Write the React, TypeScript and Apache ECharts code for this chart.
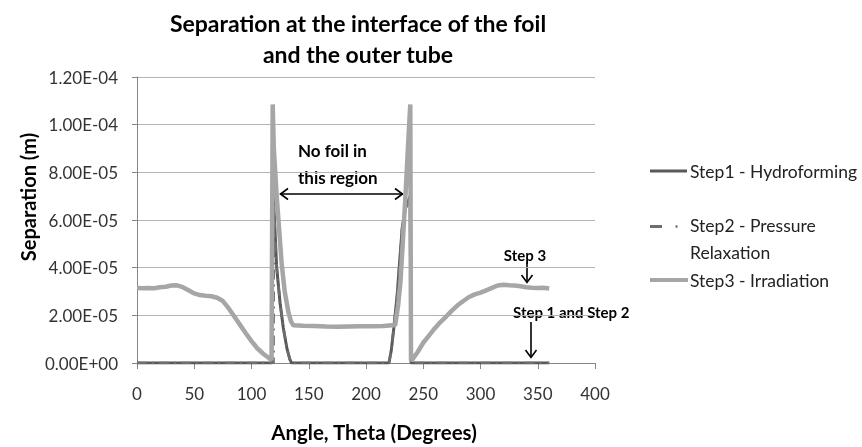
import React, { useEffect, useRef } from "react";
import * as echarts from "echarts";

// Units: separation values below are in units of 1e-5 m
const UNIT = 1e-5;

const step1Angle = [0, 117.5, 119, 120.5, 122, 125, 127.8, 131, 133.5, 135, 220, 222, 224.3, 227.2, 231.6, 234.5, 238.5, 239.4, 360];
const step1Sep = [0, 0, 7.0, 5.6, 4.0, 2.5, 1.47, 0.6, 0.15, 0, 0, 0.5, 1.47, 2.85, 5.66, 6.5, 7.0, 0, 0];

const step2Angle = [0, 119.3, 119.5, 120.5, 122, 125, 127.8, 131, 133.5, 135, 220, 222, 224.3, 227.2, 231.6, 234.5, 238.5, 239.4, 360];
const step2Sep = [0, 0, 6.6, 5.6, 4.0, 2.5, 1.47, 0.6, 0.15, 0, 0, 0.5, 1.47, 2.85, 5.66, 6.5, 6.8, 0, 0];

const step3Angle = [
  0, 5, 10, 15, 20, 25, 30, 35, 40, 45, 50, 55, 60, 65, 70, 75, 80, 85, 90, 95, 100, 105, 110, 114, 117.5,
  118.5, 119.5, 122, 126.3, 129, 132.2, 134.5, 136.6, 145, 155, 165, 175, 185, 195, 205, 215, 225.5,
  228, 230.1, 232.3, 234.5, 237.5, 238.7, 239.3, 240.5, 245, 250, 255, 260, 265, 270, 275, 280, 285, 290,
  295, 300, 305, 310, 315, 320, 325, 330, 335, 340, 345, 350, 355, 360,
];
const step3Sep = [
  3.15, 3.14, 3.15, 3.14, 3.18, 3.2, 3.25, 3.26, 3.18, 3.05, 2.92, 2.85, 2.82, 2.8, 2.74, 2.6, 2.3, 1.95, 1.6, 1.25, 0.92, 0.62, 0.4, 0.25, 0.12,
  10.85, 9.0, 7.0, 4.2, 3.0, 2.14, 1.75, 1.58, 1.56, 1.55, 1.53, 1.52, 1.53, 1.54, 1.54, 1.55, 1.59,
  2.4, 3.41, 5.2, 7.04, 9.84, 10.85, 0.1, 0.15, 0.45, 0.85, 1.15, 1.45, 1.72, 1.95, 2.2, 2.42, 2.6, 2.77,
  2.88, 2.95, 3.05, 3.15, 3.25, 3.28, 3.26, 3.25, 3.22, 3.18, 3.16, 3.15, 3.16, 3.13,
];

const xTicks = { min: 0, max: 400, interval: 50 };
const yTicks = { min: 0, max: 12e-5, interval: 2e-5 };

const legendNames = ["Step1 - Hydroforming", "Step2 - Pressure\nRelaxation", "Step3 - Irradiation"];

function sci(v: number): string {
  if (Math.abs(v) < 1e-12) return "0.00E+00";
  let e = Math.floor(Math.log10(Math.abs(v)) + 1e-9);
  let m = v / Math.pow(10, e);
  if (Number(m.toFixed(2)) >= 10) {
    e += 1;
    m = v / Math.pow(10, e);
  }
  return m.toFixed(2) + "E" + (e < 0 ? "-" : "+") + String(Math.abs(e)).padStart(2, "0");
}

function pairs(xs: number[], ys: number[]) {
  return xs.map((x, i) => [x, ys[i] * UNIT]);
}

const FONT = "Lato, 'Open Sans', sans-serif";

export default function App() {
  const ref = useRef<HTMLDivElement>(null);
  useEffect(() => {
    if (!ref.current) return;
    const chart = echarts.init(ref.current, undefined, { renderer: "svg" });
    const black = "#000";
    const arrowStyle = { stroke: black, lineWidth: 1.6, fill: null };
    chart.setOption({
      animation: false,
      textStyle: { fontFamily: FONT },
      grid: { left: 137, right: 267, top: 77, bottom: 84, containLabel: false },
      xAxis: {
        type: "value",
        min: xTicks.min,
        max: xTicks.max,
        interval: xTicks.interval,
        axisLine: { show: true, onZero: false, lineStyle: { color: "#868686", width: 1 } },
        axisTick: { show: true, inside: false, length: 6, lineStyle: { color: "#868686" } },
        axisLabel: { color: "#333", fontSize: 17, margin: 22, fontFamily: FONT },
        splitLine: { show: false },
      },
      yAxis: {
        type: "value",
        min: yTicks.min,
        max: yTicks.max,
        interval: yTicks.interval,
        axisLine: { show: true, lineStyle: { color: "#868686", width: 1 } },
        axisTick: { show: true, inside: false, length: 5, lineStyle: { color: "#868686" } },
        axisLabel: { color: "#333", fontSize: 17, margin: 19, fontFamily: FONT, formatter: (v: number) => sci(v) },
        splitLine: { show: true, lineStyle: { color: "#b3b3b3", width: 1 } },
      },
      series: [
        {
          name: "Step1 - Hydroforming",
          type: "line",
          showSymbol: false,
          symbol: "none",
          data: pairs(step1Angle, step1Sep),
          lineStyle: { color: "#595959", width: 3 },
          z: 2,
        },
        {
          name: "Step2 - Pressure Relaxation",
          type: "line",
          showSymbol: false,
          symbol: "none",
          data: pairs(step2Angle, step2Sep),
          lineStyle: { color: "#6e6e6e", width: 2.5, type: [10, 5, 2, 5] },
          z: 3,
        },
        {
          name: "Step3 - Irradiation",
          type: "line",
          showSymbol: false,
          symbol: "none",
          data: pairs(step3Angle, step3Sep),
          lineStyle: { color: "#a6a6a6", width: 4.5 },
          z: 4,
        },
      ],
      graphic: [
        // Title
        {
          type: "text",
          x: 358,
          y: 7,
          style: {
            text: "Separation at the interface of the foil\nand the outer tube",
            fontFamily: FONT,
            fontWeight: "bold",
            fontSize: 23,
            lineHeight: 31,
            fill: black,
            textAlign: "center",
            textVerticalAlign: "top",
          },
        },
        // Y axis title
        {
          type: "text",
          x: 28,
          y: 197,
          rotation: Math.PI / 2,
          style: {
            text: "Separation (m)",
            fontFamily: FONT,
            fontWeight: "bold",
            fontSize: 20,
            fill: black,
            textAlign: "center",
            textVerticalAlign: "middle",
          },
        },
        // X axis title
        {
          type: "text",
          x: 374,
          y: 432,
          style: {
            text: "Angle, Theta (Degrees)",
            fontFamily: FONT,
            fontWeight: "bold",
            fontSize: 20.5,
            fill: black,
            textAlign: "center",
            textVerticalAlign: "middle",
          },
        },
        // Legend
        { type: "line", shape: { x1: 650, y1: 171, x2: 687, y2: 171 }, style: { stroke: "#595959", lineWidth: 3 } },
        { type: "text", x: 690, y: 171, style: { text: legendNames[0], fontFamily: FONT, fontSize: 17.5, fill: "#222", textVerticalAlign: "middle" } },
        { type: "line", shape: { x1: 650, y1: 226.5, x2: 662, y2: 226.5 }, style: { stroke: "#6e6e6e", lineWidth: 3 } },
        { type: "line", shape: { x1: 675.5, y1: 226.5, x2: 677.5, y2: 226.5 }, style: { stroke: "#6e6e6e", lineWidth: 2.5 } },
        { type: "text", x: 690, y: 212, style: { text: legendNames[1], fontFamily: FONT, fontSize: 17.5, lineHeight: 27, fill: "#222", textVerticalAlign: "top" } },
        { type: "line", shape: { x1: 650, y1: 280, x2: 688, y2: 280 }, style: { stroke: "#a6a6a6", lineWidth: 4 } },
        { type: "text", x: 690, y: 280, style: { text: legendNames[2], fontFamily: FONT, fontSize: 17.5, fill: "#222", textVerticalAlign: "middle" } },
        // No foil annotation
        {
          type: "text",
          x: 298,
          y: 150,
          style: { text: "No foil in", fontFamily: FONT, fontWeight: "bold", fontSize: 17, fill: black, textVerticalAlign: "middle" },
        },
        {
          type: "text",
          x: 298,
          y: 177,
          style: { text: "this region", fontFamily: FONT, fontWeight: "bold", fontSize: 17, fill: black, textVerticalAlign: "middle" },
        },
        { type: "line", shape: { x1: 280, y1: 194, x2: 403, y2: 194 }, style: { stroke: black, lineWidth: 1.6 } },
        { type: "polyline", shape: { points: [[288, 188.5], [280.5, 194], [288, 199.5]] }, style: arrowStyle },
        { type: "polyline", shape: { points: [[395, 188.5], [402.5, 194], [395, 199.5]] }, style: arrowStyle },
        // Step 3 annotation
        {
          type: "text",
          x: 525,
          y: 255,
          style: { text: "Step 3", fontFamily: FONT, fontWeight: "bold", fontSize: 15, fill: black, textAlign: "center", textVerticalAlign: "middle" },
        },
        { type: "line", shape: { x1: 527, y1: 263, x2: 527, y2: 282 }, style: { stroke: black, lineWidth: 1.6 } },
        { type: "polyline", shape: { points: [[521.5, 275], [527, 282.5], [532.5, 275]] }, style: arrowStyle },
        // Step 1 and Step 2 annotation
        {
          type: "text",
          x: 513,
          y: 312,
          style: { text: "Step 1 and Step 2", fontFamily: FONT, fontWeight: "bold", fontSize: 15, fill: black, textVerticalAlign: "middle" },
        },
        { type: "line", shape: { x1: 531, y1: 322, x2: 531, y2: 357 }, style: { stroke: black, lineWidth: 1.6 } },
        { type: "polyline", shape: { points: [[525.5, 350], [531, 357.5], [536.5, 350]] }, style: arrowStyle },
      ],
    });
    return () => chart.dispose();
  }, []);
  return <div ref={ref} style={{ position: "fixed", left: 0, top: 0, width: 862, height: 447 }} />;
}
